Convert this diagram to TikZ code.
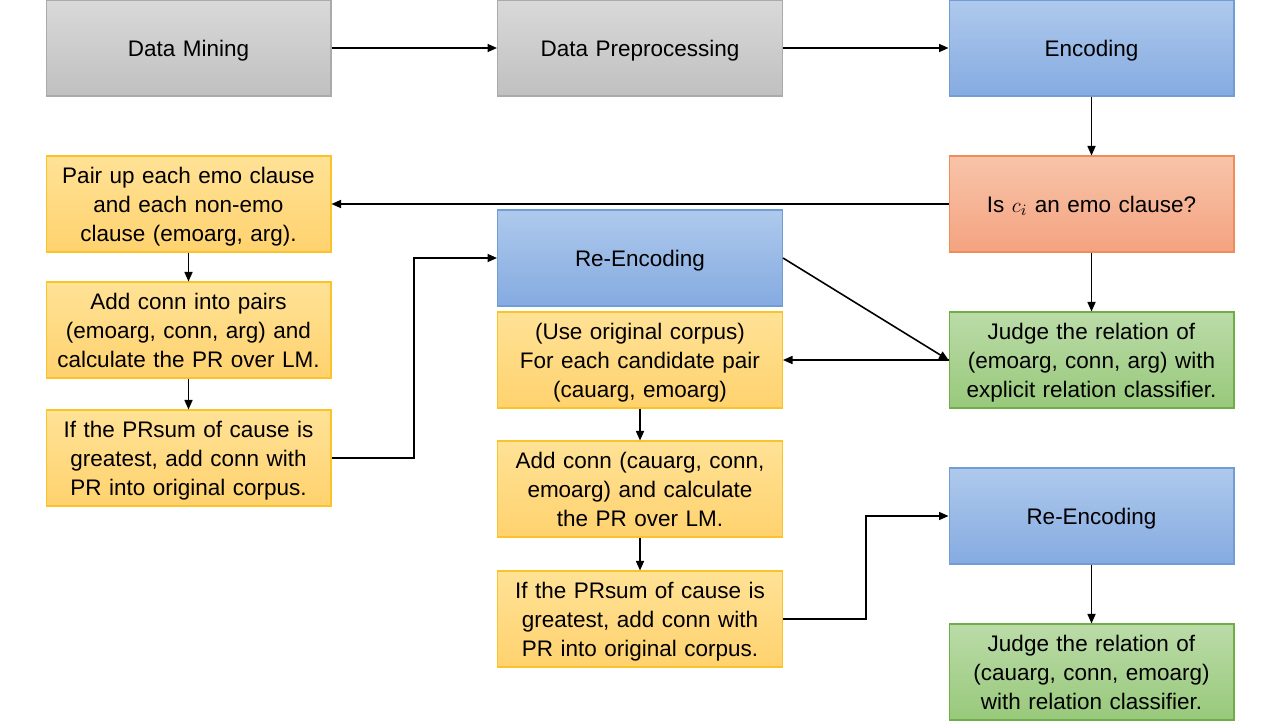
\documentclass[tikz,border=0pt]{standalone}
\usepackage{fontspec}
\setmainfont{Liberation Sans}
\usetikzlibrary{arrows.meta,calc}
\definecolor{grayT}{RGB}{217,217,217}
\definecolor{grayB}{RGB}{192,192,192}
\definecolor{grayD}{RGB}{170,170,170}
\definecolor{blueT}{RGB}{174,201,236}
\definecolor{blueB}{RGB}{133,171,225}
\definecolor{blueD}{RGB}{112,157,213}
\definecolor{yelT}{RGB}{255,226,150}
\definecolor{yelB}{RGB}{255,210,110}
\definecolor{yelD}{RGB}{250,195,40}
\definecolor{orT}{RGB}{248,196,170}
\definecolor{orB}{RGB}{244,163,128}
\definecolor{orD}{RGB}{240,140,90}
\definecolor{grT}{RGB}{187,219,168}
\definecolor{grB}{RGB}{152,201,123}
\definecolor{grD}{RGB}{112,173,71}
\tikzset{
  box/.style={rectangle, minimum width=5.7cm, minimum height=1.92cm, inner sep=0pt,
    text width=5.6cm, align=center, line width=0.6pt,
    font=\fontsize{12.8}{16.6}\selectfont,
    execute at begin node={\rule{0pt}{12.8pt}},
    execute at end node={\rule[-3.2pt]{0pt}{0pt}}},
  graybox/.style={box, draw=grayD, top color=grayT, bottom color=grayB},
  bluebox/.style={box, draw=blueD, top color=blueT, bottom color=blueB},
  yelbox/.style={box, draw=yelD, top color=yelT, bottom color=yelB},
  orbox/.style={box, draw=orD, top color=orT, bottom color=orB},
  grbox/.style={box, draw=grD, top color=grT, bottom color=grB},
  conn/.style={draw, line width=0.9pt, -{Triangle[length=1.9mm,width=1.6mm]}}
}
\begin{document}
\begin{tikzpicture}[x=0.02cm,y=-0.02cm]
\useasboundingbox (0,0) rectangle (1280,720);
\node[graybox] (dm) at (188.5,48) {Data Mining};
\node[graybox] (dp) at (640,48) {Data Preprocessing};
\node[bluebox] (enc) at (1091.5,48) {Encoding};
\node[orbox] (is) at (1091.5,204) {Is $c_i$ an emo clause?};
\node[yelbox] (pair) at (188.5,204) {Pair up each emo clause\\and each non-emo\\clause (emoarg, arg).};
\node[yelbox] (add1) at (188.5,330) {Add conn into pairs\\(emoarg, conn, arg) and\\calculate the PR over LM.};
\node[yelbox] (if1) at (188.5,458) {If the PRsum of cause is\\greatest, add conn with\\PR into original corpus.};
\node[bluebox] (re1) at (640,258) {Re-Encoding};
\node[yelbox] (use) at (640,360) {(Use original corpus)\\For each candidate pair\\(cauarg, emoarg)};
\node[yelbox] (add2) at (640,489) {Add conn (cauarg, conn,\\emoarg) and calculate\\the PR over LM.};
\node[yelbox] (if2) at (640,619) {If the PRsum of cause is\\greatest, add conn with\\PR into original corpus.};
\node[grbox] (j1) at (1091.5,360) {Judge the relation of\\(emoarg, conn, arg) with\\explicit relation classifier.};
\node[bluebox] (re2) at (1091.5,516) {Re-Encoding};
\node[grbox] (j2) at (1091.5,672) {Judge the relation of\\(cauarg, conn, emoarg)\\with relation classifier.};

\draw[conn] (dm) -- (dp);
\draw[conn] (dp) -- (enc);
\draw[conn] (enc) -- (is);
\draw[conn] (is) -- (pair);
\draw[conn] (is) -- (j1);
\draw[conn] (pair) -- (add1);
\draw[conn] (add1) -- (if1);
\draw[conn] (if1.east) -| ($(if1.east)!0.5!(re1.west)$) |- (re1.west);
\draw[conn] (re1.east) -- (j1.west);
\draw[conn] (j1.west) -- (use.east);
\draw[conn] (use) -- (add2);
\draw[conn] (add2) -- (if2);
\draw[conn] (if2.east) -| ($(if2.east)!0.5!(re2.west)$) |- (re2.west);
\draw[conn] (re2) -- (j2);
\end{tikzpicture}
\end{document}
